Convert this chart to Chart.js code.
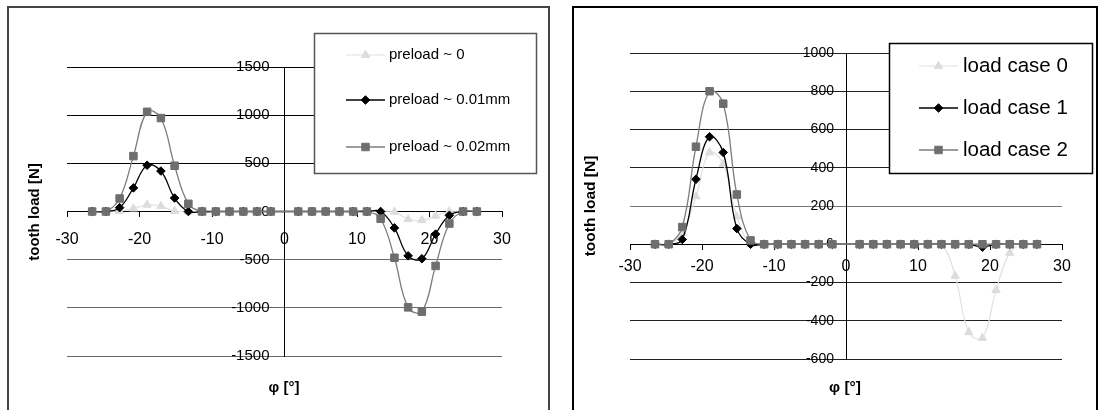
<!DOCTYPE html>
<html><head><meta charset="utf-8">
<script src="https://cdn.jsdelivr.net/npm/chart.js@4/dist/chart.umd.min.js"></script>
<style>
html,body{margin:0;padding:0;background:#fff;width:1104px;height:410px;overflow:hidden;}
.frame{position:absolute;box-sizing:border-box;}
#f1{left:7px;top:6px;width:543px;height:420px;border:2px solid #444;}
#f2{left:572px;top:6px;width:526px;height:420px;border:2px solid #000;}
canvas{position:absolute;top:0;}
#c1{left:0;} #c2{left:552px;}
</style></head>
<body>
<div class="frame" id="f1"></div><div class="frame" id="f2"></div>
<canvas id="c1" width="552" height="410"></canvas>
<canvas id="c2" width="552" height="410"></canvas>
<script>
// ---- data ----
const X_VALUES = [-26.53,-24.63,-22.74,-20.84,-18.95,-17.05,-15.16,-13.26,-11.37,-9.47,-7.58,-5.68,-3.79,-1.89,
                   1.89,3.79,5.68,7.58,9.47,11.37,13.26,15.16,17.05,18.95,20.84,22.74,24.63,26.53];

const LEFT_PRELOAD_0    = [0,0,5,30,70,55,5,0, 0,0,0,0,0,0, 0,0,0,0,0,0, 0,-3,-80,-90,-45,0,0,0];
const LEFT_PRELOAD_001  = [0,0,40,245,480,420,140,0, 0,0,0,0,0,0, 0,0,0,0,0,0, 0,-170,-460,-490,-235,-40,0,0];
const LEFT_PRELOAD_002  = [0,0,135,575,1035,970,475,80, 0,0,0,0,0,0, 0,0,0,0,0,0, -75,-480,-995,-1040,-565,-125,0,0];

const RIGHT_CASE_0 = [0,0,60,250,480,420,145,0, 0,0,0,0,0,0, 0,0,0,0,0,0, 0,-165,-460,-490,-240,-45,0,0];
const RIGHT_CASE_1 = [0,0,25,340,562,480,82,0, 0,0,0,0,0,0, 0,0,0,0,0,0, 0,0,0,-15,0,0,0,0];
const RIGHT_CASE_2 = [0,0,90,510,800,735,260,20, 0,0,0,0,0,0, 0,0,0,0,0,0, 0,0,0,0,0,0,0,0];

const LEFT_LABELS  = ['preload ~ 0','preload ~ 0.01mm','preload ~ 0.02mm'];
const RIGHT_LABELS = ['load case 0','load case 1','load case 2'];

const X_TICKS       = [-30,-20,-10,0,10,20,30];
const LEFT_Y_TICKS  = [-1500,-1000,-500,0,500,1000,1500];
const RIGHT_Y_TICKS = [-600,-400,-200,0,200,400,600,800,1000];

const Y_TITLE = 'tooth load [N]';
const X_TITLE = 'φ [°]';

// ---- styles ----
const FONT = '"Liberation Sans", Arial, sans-serif';
const STYLES = [
  {fill:'#dcdcdc', line:'#e0e0e0', shape:'triangle', r:4.8, lw:1.2},
  {fill:'#000000', line:'#000000', shape:'rectRot',  r:4.3, lw:1.3},
  {fill:'#6e6e6e', line:'#7c7c7c', shape:'rect',     r:5.3, lw:1.3}
];

function pts(vals){ return X_VALUES.map((x,i)=>({x:x, y:vals[i]})); }

function makeDatasets(labels, series){
  return series.map((vals,i)=>{
    const s = STYLES[i];
    return {
      label: labels[i], data: pts(vals),
      borderColor: s.line, borderWidth: s.lw, backgroundColor: s.fill,
      pointStyle: s.shape, pointRadius: s.r, pointBorderColor: s.fill, pointBorderWidth: 1,
      pointBackgroundColor: s.fill, tension: 0.4, fill: false, order: 3 - i,
      xAxisID: 'x', yAxisID: 'y'
    };
  });
}

function drawMarker(ctx, shape, r, x, y, color){
  ctx.beginPath();
  if (shape === 'triangle'){
    for (let k=0;k<3;k++){
      const a = k*2*Math.PI/3;
      const px = x + Math.sin(a)*r, py = y - Math.cos(a)*r;
      if (k===0) ctx.moveTo(px,py); else ctx.lineTo(px,py);
    }
  } else if (shape === 'rectRot'){
    ctx.moveTo(x-r,y); ctx.lineTo(x,y-r); ctx.lineTo(x+r,y); ctx.lineTo(x,y+r);
  } else {
    const h = Math.SQRT1_2*r;
    ctx.rect(x-h,y-h,2*h,2*h);
  }
  ctx.closePath();
  ctx.fillStyle = color; ctx.fill();
  ctx.strokeStyle = color; ctx.lineWidth = 1; ctx.stroke();
}

function decorPlugin(cfg){
  return {
    id: 'decor',
    afterDraw(chart){
      const ctx = chart.ctx;
      ctx.save();
      // legend box
      const b = cfg.box;
      ctx.fillStyle = '#fff';
      ctx.fillRect(b[0], b[1], b[2], b[3]);
      ctx.strokeStyle = cfg.boxColor; ctx.lineWidth = 1.5;
      ctx.strokeRect(b[0], b[1], b[2], b[3]);
      chart.data.datasets.forEach((ds,i)=>{
        const s = STYLES[i];
        const y = cfg.rows[i];
        ctx.beginPath();
        ctx.moveTo(cfg.line[0], y); ctx.lineTo(cfg.line[1], y);
        ctx.strokeStyle = s.line; ctx.lineWidth = s.lw; ctx.stroke();
        drawMarker(ctx, s.shape, s.r, (cfg.line[0]+cfg.line[1])/2, y, s.fill);
        ctx.fillStyle = '#000';
        ctx.font = cfg.legendFont + 'px ' + FONT;
        ctx.textAlign = 'left'; ctx.textBaseline = 'middle';
        ctx.fillText(ds.label, cfg.textX, y);
      });
      // axis titles
      ctx.fillStyle = '#000';
      ctx.font = 'bold ' + cfg.titleFont + 'px ' + FONT;
      ctx.textAlign = 'center'; ctx.textBaseline = 'middle';
      ctx.save();
      ctx.translate(cfg.yTitle[0], cfg.yTitle[1]);
      ctx.rotate(-Math.PI/2);
      ctx.fillText(Y_TITLE, 0, 0);
      ctx.restore();
      ctx.fillText(X_TITLE, cfg.xTitle[0], cfg.xTitle[1]);
      ctx.restore();
    }
  };
}

const plainLabel = (v) => String(v);

function makeChart(id, labels, series, yTicks, cfg){
  const yMin = yTicks[0], yMax = yTicks[yTicks.length-1], yStep = yTicks[1]-yTicks[0];
  return new Chart(document.getElementById(id), {
    type: 'line',
    data: { datasets: makeDatasets(labels, series) },
    options: {
      responsive: false, animation: false, events: [],
      layout: { padding: cfg.padding },
      plugins: { legend: {display:false}, tooltip: {enabled:false}, title:{display:false} },
      scales: {
        x: {
          type: 'linear', position: {y: 0},
          min: X_TICKS[0], max: X_TICKS[X_TICKS.length-1],
          ticks: { stepSize: X_TICKS[1]-X_TICKS[0], autoSkip:false, maxRotation:0, callback: plainLabel,
                   color:'#000', font:{family:FONT, size:cfg.xFont}, padding: cfg.xPad },
          grid: { drawOnChartArea:false, drawTicks:true, tickLength:5, color:'#000' },
          border: { display:true, color:'#000', width:1 }
        },
        y: {
          type: 'linear', position: {x: 0},
          min: yMin, max: yMax,
          ticks: { stepSize: yStep, display:false },
          grid: { color: cfg.gridColor, lineWidth: 1, tickLength: 5, drawTicks: true },
          border: { display:true, color:'#000', width:1 }
        },
        yl: {
          type: 'linear', position: {x: cfg.labelShift},
          min: yMin, max: yMax,
          ticks: { stepSize: yStep, callback: plainLabel, color:'#000', font:{family:FONT, size:cfg.yFont}, padding:0 },
          grid: { display:false, drawTicks:false },
          border: { display:false }
        }
      }
    },
    plugins: [decorPlugin(cfg)]
  });
}

makeChart('c1', LEFT_LABELS, [LEFT_PRELOAD_0, LEFT_PRELOAD_001, LEFT_PRELOAD_002], LEFT_Y_TICKS, {
  padding: {left:67, right:50, top:67, bottom:54},
  xFont: 16, yFont: 15, xPad: 13, labelShift: -2.07,
  gridColor: (c)=> (c.tick && c.tick.value < 0) ? '#6a6a6a' : '#000',
  box: [314.5, 33.5, 222, 140], boxColor: '#555', rows: [55,100,147], line: [346,385], textX: 389, legendFont: 15,
  titleFont: 15, yTitle: [35, 212], xTitle: [284, 388]
});

makeChart('c2', RIGHT_LABELS, [RIGHT_CASE_0, RIGHT_CASE_1, RIGHT_CASE_2], RIGHT_Y_TICKS, {
  padding: {left:78, right:42, top:53, bottom:51},
  xFont: 16, yFont: 14, xPad: 8, labelShift: -1.67,
  gridColor: (c)=> (c.tick && c.tick.value === 200) ? '#777' : '#222',
  box: [337.5, 43.5, 203, 130], boxColor: '#000', rows: [66,108,150], line: [367,406], textX: 411, legendFont: 20.5,
  titleFont: 15.5, yTitle: [39, 206], xTitle: [293, 388]
});
</script>
</body></html>
